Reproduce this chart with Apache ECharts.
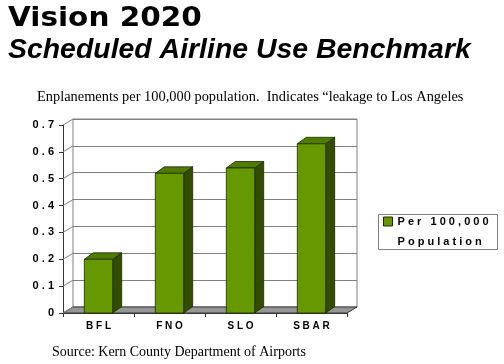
<!DOCTYPE html>
<html>
<head>
<meta charset="utf-8">
<script src="https://cdn.jsdelivr.net/npm/echarts@6/dist/echarts.min.js"></script>
<style>html,body{margin:0;padding:0;background:#fff}#c{width:504px;height:364px}</style>
</head>
<body>
<div id="c"></div>
<script>
const categories = ['BFL', 'FNO', 'SLO', 'SBAR'];
const values = [0.2, 0.52, 0.54, 0.63];
const yTicks = [0, 0.1, 0.2, 0.3, 0.4, 0.5, 0.6, 0.7];
const seriesName = 'Per 100,000\nPopulation';
const titleText = 'Vision 2020';
const subtitleText = 'Scheduled Airline Use Benchmark';
const noteText = 'Enplanements per 100,000 population.  Indicates \u201cleakage to Los Angeles';
const sourceText = 'Source: Kern County Department of Airports';

const spaced = s => String(s).split('\n').map(l => l.split('').join(' ')).join('\n');
const WALL_DX = 10, WALL_DY = -6;
const BAR_DX = 9, BAR_DY = -6.5;
const EDGE = '#1c2a00';

const chart = echarts.init(document.getElementById('c'), null, {renderer: 'canvas'});

function renderFloor(params, api) {
  const cs = params.coordSys;
  const yb = api.coord([0, 0])[1];
  const x0 = cs.x, x1 = cs.x + cs.width;
  return {
    type: 'polygon',
    shape: {points: [[x0, yb], [x1, yb], [x1 + WALL_DX, yb + WALL_DY], [x0 + WALL_DX, yb + WALL_DY]]},
    style: {fill: '#969696', stroke: '#3a3a3a', lineWidth: 1}
  };
}

function renderSideWall(params, api) {
  const cs = params.coordSys;
  const y = api.coord([0, api.value(1)])[1];
  return {
    type: 'line',
    shape: {x1: cs.x, y1: y, x2: cs.x + WALL_DX, y2: y + WALL_DY},
    style: {stroke: '#808080', lineWidth: 1}
  };
}

function renderBar(params, api) {
  const i = api.value(0), v = api.value(1);
  const top = api.coord([i, v]);
  const bot = api.coord([i, 0]);
  const w = api.size([1, 0])[0] * 0.4;
  const x0 = top[0] - w / 2, x1 = top[0] + w / 2, yt = top[1], yb = bot[1];
  return {
    type: 'group',
    children: [
      {type: 'polygon', shape: {points: [[x1, yt], [x1 + BAR_DX, yt + BAR_DY], [x1 + BAR_DX, yb + BAR_DY], [x1, yb]]},
        style: {fill: '#334d00', stroke: EDGE, lineWidth: 0.8}},
      {type: 'polygon', shape: {points: [[x0, yt], [x0 + BAR_DX, yt + BAR_DY], [x1 + BAR_DX, yt + BAR_DY], [x1, yt]]},
        style: {fill: '#4f7c00', stroke: EDGE, lineWidth: 0.8}},
      {type: 'rect', shape: {x: x0, y: yt, width: w, height: yb - yt},
        style: {fill: api.visual('color'), stroke: EDGE, lineWidth: 0.8}}
    ]
  };
}

const boldLabel = {fontFamily: '"Liberation Sans", Arial, sans-serif', fontWeight: 'bold', color: '#000'};

chart.setOption({
  animation: false,
  backgroundColor: '#fff',
  graphic: [
    {type: 'text', x: 8, y: 19.5, scaleX: 1.135,
      style: {text: titleText, font: 'bold 26px "DejaVu Sans"', fill: '#000', align: 'left', verticalAlign: 'middle'}},
    {type: 'text', x: 8, y: 50.5, scaleX: 1.015,
      style: {text: subtitleText, font: 'italic bold 28px "Liberation Sans"', fill: '#000', align: 'left', verticalAlign: 'middle'}},
    {type: 'text', x: 37, y: 97,
      style: {text: noteText, font: '14.4px "Liberation Serif"', fill: '#000', align: 'left', verticalAlign: 'middle'}},
    {type: 'text', x: 52, y: 352.5,
      style: {text: sourceText, font: '14px "Liberation Serif"', fill: '#000', align: 'left', verticalAlign: 'middle'}},
    {type: 'rect', z: -1, shape: {x: 378.5, y: 214.5, width: 119, height: 35},
      style: {fill: '#fff', stroke: '#808080', lineWidth: 1}}
  ],
  legend: {
    data: [{name: seriesName}],
    left: 383, top: 191.5, padding: 0,
    icon: 'rect', itemWidth: 9, itemHeight: 9,
    itemStyle: {borderColor: EDGE, borderWidth: 1},
    formatter: n => '\n' + spaced(n),
    textStyle: Object.assign({}, boldLabel, {fontSize: 11, lineHeight: 20})
  },
  grid: [
    {left: 63, top: 125, width: 284, height: 188, show: false},
    {left: 63 + WALL_DX, top: 125 + WALL_DY, width: 284, height: 188, show: true,
      borderColor: '#808080', borderWidth: 1, backgroundColor: 'rgba(0,0,0,0)'}
  ],
  xAxis: [
    {gridIndex: 0, type: 'category', data: categories,
      axisLine: {show: true, lineStyle: {color: '#333'}},
      axisTick: {show: true, length: 4, lineStyle: {color: '#333'}},
      axisLabel: Object.assign({}, boldLabel, {fontSize: 10, margin: 8, formatter: v => spaced(v)})},
    {gridIndex: 1, type: 'category', data: categories, show: false}
  ],
  yAxis: [
    {gridIndex: 0, type: 'value', min: 0, max: 0.7, interval: 0.1,
      axisLine: {show: true, lineStyle: {color: '#333'}},
      axisTick: {show: true, length: 4, lineStyle: {color: '#333'}},
      splitLine: {show: false},
      axisLabel: Object.assign({}, boldLabel, {fontSize: 11, margin: 9,
        formatter: v => spaced(String(Math.round(v * 10) / 10))})},
    {gridIndex: 1, type: 'value', min: 0, max: 0.7, interval: 0.1,
      axisLine: {show: false}, axisTick: {show: false}, axisLabel: {show: false},
      splitLine: {show: true, lineStyle: {color: '#808080', width: 1}}}
  ],
  series: [
    {type: 'custom', name: 'floor', xAxisIndex: 0, yAxisIndex: 0, z: 1, silent: true,
      renderItem: renderFloor, data: [[0, 0]]},
    {type: 'custom', name: 'sidewall', xAxisIndex: 0, yAxisIndex: 0, z: 1, silent: true,
      renderItem: renderSideWall, data: yTicks.map(v => [0, v])},
    {type: 'custom', name: seriesName, xAxisIndex: 0, yAxisIndex: 0, z: 3,
      itemStyle: {color: '#669900'},
      encode: {x: 0, y: 1},
      renderItem: renderBar, data: values.map((v, i) => [i, v])}
  ]
});
</script>
</body>
</html>
